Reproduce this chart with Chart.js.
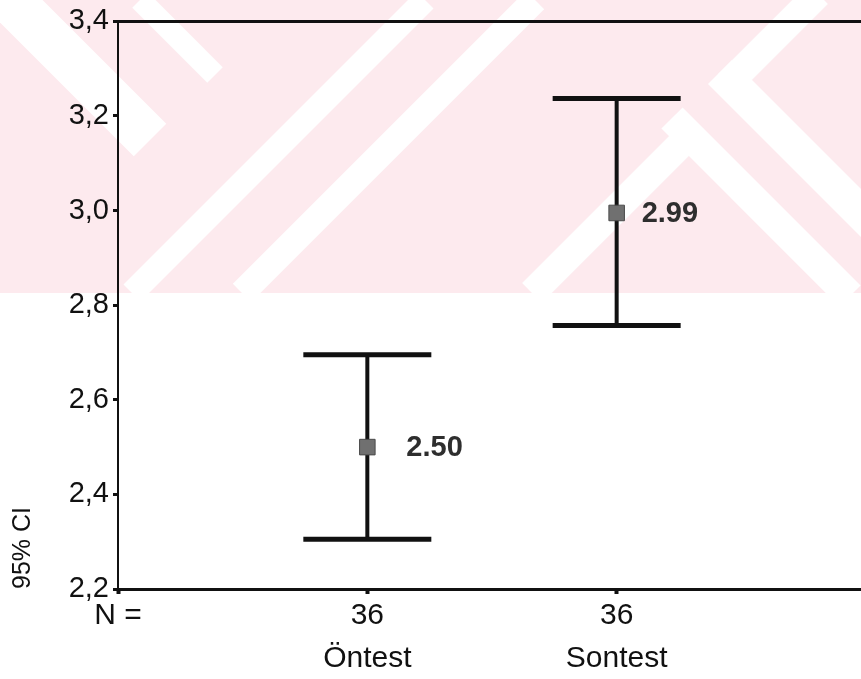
<!DOCTYPE html>
<html>
<head>
<meta charset="utf-8">
<script src="https://cdn.jsdelivr.net/npm/chart.js@4.4.0/dist/chart.umd.min.js"></script>
<style>
  html, body { margin: 0; padding: 0; background: #fff; }
  #wrap { width: 861px; height: 679px; }
</style>
</head>
<body>
<div id="wrap"><canvas id="c" width="861" height="679"></canvas></div>
<script>
// ── données ───────────────────────────────────────────────────────────────
const groups     = ["Öntest", "Sontest"];
const groupPos   = [1, 2];
const counts     = [36, 36];
const means      = [2.50, 2.995];
const meanLabels = ["2.50", "2.99"];
const ciLow      = [2.305, 2.757];
const ciHigh     = [2.695, 3.237];
const yTicks     = [2.2, 2.4, 2.6, 2.8, 3.0, 3.2, 3.4];

// ── style ─────────────────────────────────────────────────────────────────
const FONT     = "'Liberation Sans', Arial, sans-serif";
const INK      = "#111";
const CAP_HALF = 64;          // demi-largeur des barres d'erreur (px)
const LABEL_DX = [39, 25];    // décalage des étiquettes de moyenne (px)

// filigrane rose du scan (décor) : [x1, y1, x2, y2, épaisseur]
const WM_BOTTOM = 293;
const WM_STRIPES = [
  [132, 293, 425, 0, 24],
  [242, 293, 535, 0, 26],
  [532, 293, 692, 133, 28],
  [0, -10, 150, 140, 46],
  [140, 0, 215, 75, 22],
  [672, 118, 850, 296, 30],
  [720, 72, 880, 232, 34],
  [728, 84, 818, -6, 28],
];

const watermark = {
  id: "watermark",
  beforeDraw(chart) {
    const { ctx, width, height } = chart;
    ctx.save();
    ctx.fillStyle = "#fff";
    ctx.fillRect(0, 0, width, height);
    ctx.beginPath();
    ctx.rect(0, 0, width, WM_BOTTOM);
    ctx.clip();
    ctx.fillStyle = "#fdeaee";
    ctx.fillRect(0, 0, width, WM_BOTTOM);
    ctx.strokeStyle = "#fff";
    ctx.lineCap = "butt";
    WM_STRIPES.forEach(([x1, y1, x2, y2, w]) => {
      ctx.lineWidth = w;
      ctx.beginPath();
      ctx.moveTo(x1, y1);
      ctx.lineTo(x2, y2);
      ctx.stroke();
    });
    ctx.restore();
  },
};

// barres d'erreur (IC 95 %) + étiquettes des moyennes
const errorBars = {
  id: "errorBars",
  beforeDatasetsDraw(chart) {
    const { ctx, scales: { x, y } } = chart;
    ctx.save();
    ctx.strokeStyle = INK;
    ctx.lineCap = "butt";
    groupPos.forEach((g, i) => {
      const px = x.getPixelForValue(g);
      const yl = y.getPixelForValue(ciLow[i]);
      const yh = y.getPixelForValue(ciHigh[i]);
      ctx.lineWidth = 4;
      ctx.beginPath();
      ctx.moveTo(px, yl);
      ctx.lineTo(px, yh);
      ctx.stroke();
      ctx.lineWidth = 5;
      [yl, yh].forEach((py) => {
        ctx.beginPath();
        ctx.moveTo(px - CAP_HALF, py);
        ctx.lineTo(px + CAP_HALF, py);
        ctx.stroke();
      });
    });
    ctx.restore();
  },
  afterDatasetsDraw(chart) {
    const { ctx, scales: { x, y } } = chart;
    ctx.save();
    ctx.fillStyle = "#2e2e2e";
    ctx.font = "bold 29px " + FONT;
    ctx.textAlign = "left";
    ctx.textBaseline = "middle";
    groupPos.forEach((g, i) => {
      ctx.fillText(meanLabels[i], x.getPixelForValue(g) + LABEL_DX[i], y.getPixelForValue(means[i]) + 1);
    });
    ctx.restore();
  },
};

new Chart(document.getElementById("c"), {
  type: "scatter",
  data: {
    datasets: [
      {
        data: groupPos.map((g, i) => ({ x: g, y: means[i] })),
        pointStyle: "rect",
        pointRadius: 11,
        pointHoverRadius: 11,
        backgroundColor: "#707070",
        borderColor: "#4a4a4a",
        borderWidth: 1,
      },
    ],
  },
  options: {
    responsive: false,
    devicePixelRatio: 1,
    animation: false,
    // pas de marge auto pour les points : la zone va jusqu'au bord droit
    layout: { autoPadding: false, padding: { top: 21, left: 0, right: 0, bottom: 0 } },
    plugins: { legend: { display: false }, tooltip: { enabled: false } },
    scales: {
      x: {
        type: "linear",
        min: 0,
        max: 2.98,
        afterBuildTicks: (s) => { s.ticks = [0, ...groupPos].map((v) => ({ value: v })); },
        afterFit: (s) => { s.height = 90; },
        grid: { display: true, drawOnChartArea: false, drawTicks: true, tickLength: 5, tickWidth: 4, tickColor: INK },
        border: { display: true, color: INK, width: 3 },
        ticks: {
          autoSkip: false,
          maxRotation: 0,
          padding: 0,
          color: INK,
          font: { family: FONT, size: 30, lineHeight: 1.44 },
          callback: (v) => (v === 0 ? ["N =", ""] : [String(counts[v - 1]), groups[v - 1]]),
        },
      },
      top: {
        type: "linear",
        position: "top",
        min: 0,
        max: 2.98,
        afterFit: (s) => { s.height = 0; },
        grid: { display: false, drawTicks: false },
        border: { display: true, color: INK, width: 3 },
        ticks: { display: false },
      },
      y: {
        min: 2.2,
        max: 3.4,
        afterBuildTicks: (s) => { s.ticks = yTicks.map((v) => ({ value: v })); },
        afterFit: (s) => { s.width = 118; },
        grid: { display: true, drawOnChartArea: false, tickLength: 5, tickWidth: 3, tickColor: INK },
        border: { display: true, color: INK, width: 2 },
        ticks: {
          padding: 4,
          color: INK,
          font: { family: FONT, size: 29 },
          callback: (v) => v.toFixed(1).replace(".", ","),
        },
        title: {
          display: true,
          text: "95% CI",
          align: "start",
          color: INK,
          font: { family: FONT, size: 25 },
          padding: { top: 8, bottom: 0 },
        },
      },
    },
  },
  plugins: [watermark, errorBars],
});
</script>
</body>
</html>
